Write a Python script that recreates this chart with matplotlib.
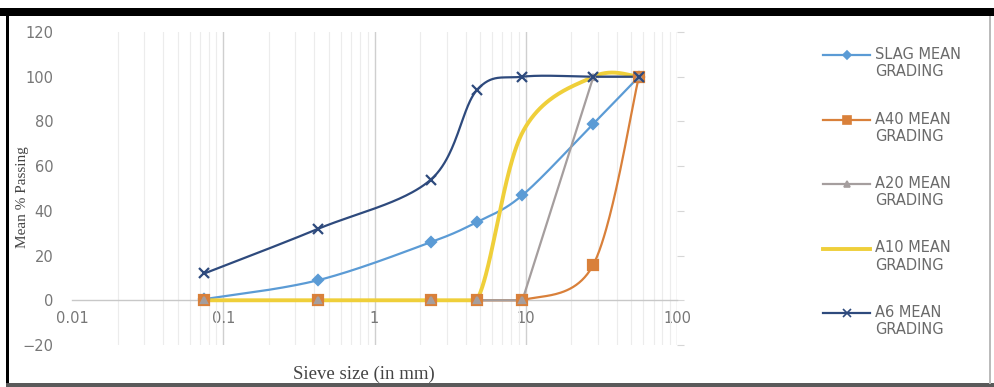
import numpy as np
import matplotlib
matplotlib.use("Agg")
import matplotlib.pyplot as plt
from matplotlib.lines import Line2D
from matplotlib.patches import Rectangle

# Sieve sizes (mm) and mean % passing for each material
sieve_mm = [0.075, 0.425, 2.36, 4.75, 9.5, 28, 56]
slag = [0.5, 9, 26, 35, 47, 79, 100]
a40 = [0, 0, 0, 0, 0, 16, 100]
a20 = [0, 0, 0, 0, 0, 100, 100]
a10 = [0, 0, 0, 0, 75, 100, 100]
a6 = [12, 32, 54, 94, 100, 100, 100]

series_names = ["SLAG MEAN\nGRADING", "A40 MEAN\nGRADING", "A20 MEAN\nGRADING",
                "A10 MEAN\nGRADING", "A6 MEAN\nGRADING"]
x_ticks = [0.01, 0.1, 1, 10, 100]
x_tick_labels = ["0.01", "0.1", "1", "10", "100"]
y_ticks = [-20, 0, 20, 40, 60, 80, 100, 120]

W, H = 994, 387
AX_L, AX_R, AX_T, AX_B = 72, 677, 32, 345
XLIM = (0.01, 100)
YLIM = (-20, 120)
SX = (AX_R - AX_L) / (np.log10(XLIM[1]) - np.log10(XLIM[0]))
SY = (AX_B - AX_T) / (YLIM[1] - YLIM[0])


def smooth_curve(xs, ys, n=50):
    """Bezier smoothing through the points (spreadsheet style), worked out
    in screen units with control arms capped at half a segment; control
    points are kept at or above 0 % passing."""
    p = np.column_stack([np.log10(xs) * SX, np.asarray(ys, float) * SY])
    ext = np.vstack([p[0], p, p[-1]])
    t = np.linspace(0, 1, n)[:, None]
    out = []
    for i in range(len(p) - 1):
        p0, p1, p2, p3 = ext[i], ext[i + 1], ext[i + 2], ext[i + 3]
        d12 = np.linalg.norm(p2 - p1)
        d02 = np.linalg.norm(p2 - p0)
        d13 = np.linalg.norm(p3 - p1)
        f1 = 1 / 6.0
        f2 = 1 / 6.0
        if d02 / 6.0 > d12 / 2.0:
            f1 = d12 / (2.0 * d02)
        if d13 / 6.0 > d12 / 2.0:
            f2 = d12 / (2.0 * d13)
        c1 = p1 + (p2 - p0) * f1
        c2 = p2 - (p3 - p1) * f2
        c1[1] = max(c1[1], 0.0)
        c2[1] = max(c2[1], 0.0)
        b = ((1 - t) ** 3) * p1 + 3 * ((1 - t) ** 2) * t * c1 \
            + 3 * (1 - t) * t ** 2 * c2 + t ** 3 * p2
        out.append(b if i == 0 else b[1:])
    pts = np.vstack(out)
    return 10 ** (pts[:, 0] / SX), pts[:, 1] / SY


def fx(px):
    return px / W


def fy(py):
    return 1 - py / H


fig = plt.figure(figsize=(W / 100, H / 100), dpi=100)
fig.patch.set_facecolor("white")

ax = fig.add_axes([fx(AX_L), fy(AX_B), (AX_R - AX_L) / W, (AX_B - AX_T) / H])
ax.set_xscale("log")
ax.set_xlim(*XLIM)
ax.set_ylim(*YLIM)

# vertical gridlines only
ax.xaxis.grid(True, which="major", color="#cfcfcf", lw=1.0)
ax.xaxis.grid(True, which="minor", color="#ececec", lw=0.8)
ax.yaxis.grid(False)
ax.set_axisbelow(True)

for s in ["top", "right", "left"]:
    ax.spines[s].set_visible(False)
ax.spines["bottom"].set_position(("data", 0))
ax.spines["bottom"].set_color("#c8c8c8")
ax.spines["bottom"].set_linewidth(1.0)

ax.set_xticks(x_ticks)
ax.set_xticklabels(x_tick_labels)
ax.set_yticks(y_ticks)
ax.tick_params(axis="x", which="both", length=0, pad=8, labelsize=10.5,
               labelcolor="#777777")
ax.tick_params(axis="y", left=False, right=True, length=5, width=0.8,
               color="#d6d6d6", pad=8.5, labelsize=10.5, labelcolor="#777777")
ax.xaxis.set_minor_formatter(matplotlib.ticker.NullFormatter())
for lab in ax.get_xticklabels() + ax.get_yticklabels():
    lab.set_fontfamily("DejaVu Sans")
ax.xaxis.get_gridlines()[0].set_visible(False)

styles = [
    dict(color="#5B9BD5", marker="D", ms=5, lw=1.6, smooth=True),
    dict(color="#D9803A", marker="s", ms=6.5, lw=1.6, smooth=True),
    dict(color="#A59E9E", marker="^", ms=5, lw=1.6, smooth=False),
    dict(color="#EFCF3A", marker=None, ms=0, lw=2.8, smooth=True),
    dict(color="#2E4A7D", marker="x", ms=7, lw=1.6, smooth=True),
]
data = [slag, a40, a20, a10, a6]

for vals, st in zip(data, styles):
    if st["smooth"]:
        cx, cy = smooth_curve(sieve_mm, vals)
    else:
        cx, cy = sieve_mm, vals
    ax.plot(cx, cy, color=st["color"], lw=st["lw"], solid_capstyle="round",
            solid_joinstyle="round", zorder=3)
    if st["marker"]:
        ax.plot(sieve_mm, vals, ls="none", marker=st["marker"], ms=st["ms"],
                color=st["color"], mec=st["color"], mew=1.6, zorder=4)

# legend: sample line beside the first line of each two-line label
for i, (name, st) in enumerate(zip(series_names, styles)):
    yc = 55 + 64.5 * i
    fig.add_artist(Line2D([fx(823), fx(870)], [fy(yc), fy(yc)],
                          transform=fig.transFigure, color=st["color"],
                          lw=st["lw"]))
    if st["marker"]:
        fig.add_artist(Line2D([fx(846.5)], [fy(yc)], transform=fig.transFigure,
                              ls="none", marker=st["marker"], ms=st["ms"] * 0.85,
                              color=st["color"], mec=st["color"], mew=1.2))
    fig.text(fx(875), fy(yc - 8), name, ha="left", va="top", fontsize=10.5,
             family="DejaVu Sans", color="#6a6a6a", linespacing=1.2)

# axis titles
fig.text(fx(23), fy(197), "Mean % Passing", rotation=90, ha="center",
         va="center", fontsize=11, family="Liberation Serif", color="#444444")
fig.text(fx(364), fy(374), "Sieve size (in mm)", ha="center", va="center",
         fontsize=13.5, family="Liberation Serif", color="#444444")

# frame around the chart
fig.add_artist(Rectangle((0, fy(16)), 1, 8 / H, transform=fig.transFigure,
                         color="black", lw=0))
fig.add_artist(Rectangle((fx(6), fy(384)), 3 / W, 368 / H,
                         transform=fig.transFigure, color="black", lw=0))
fig.add_artist(Rectangle((fx(6), 0), 1 - 6 / W, 4 / H,
                         transform=fig.transFigure, color="#5a5a5a", lw=0))
fig.add_artist(Rectangle((fx(989), fy(384)), 1.5 / W, 368 / H,
                         transform=fig.transFigure, color="#bbbbbb", lw=0))

fig.savefig("out.png", dpi=100)
